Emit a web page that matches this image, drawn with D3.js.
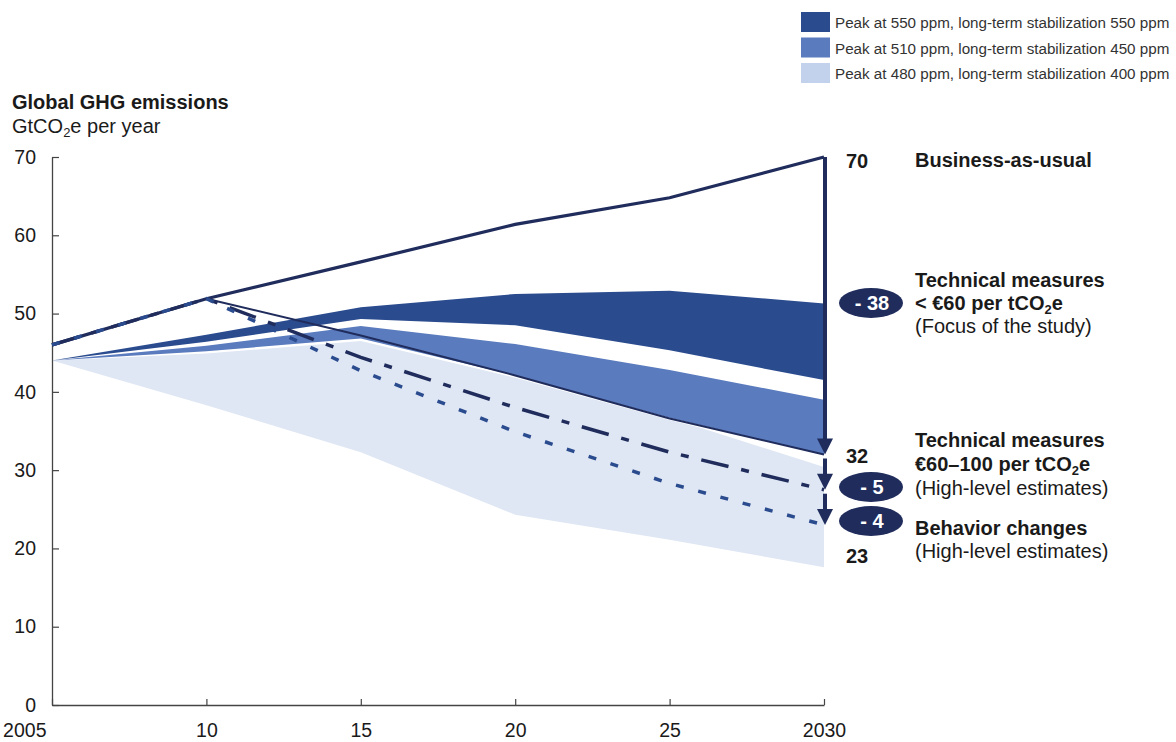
<!DOCTYPE html>
<html lang="en">
<head>
<meta charset="UTF-8">
<title>Global GHG emissions</title>
<script src="https://d3js.org/d3.v7.min.js"></script>
<style>
  body { margin: 0; background: #fff; }
  svg { display: block; font-family: "Liberation Sans", Arial, sans-serif; }
</style>
</head>
<body>
<svg id="chart" width="1176" height="742"></svg>
<script>
    // x axis years and labels
    const years = [2005, 2010, 2015, 2020, 2025, 2030];
    const yearLabels = ["2005", "10", "15", "20", "25", "2030"];
    const valueTicks = [0, 10, 20, 30, 40, 50, 60, 70];

    // emission paths, GtCO2e per year
    const bau = [46, 51.9, 56.6, 61.4, 64.8, 70];
    const techPath = [null, 51.9, 47.2, 42.1, 36.6, 32];
    const techPlusPath = [46, 51.9, 44.4, 38.0, 32.3, 27.5];
    const behaviorPath = [46, 51.9, 42.7, 34.9, 28.3, 23];

    // stabilization bands (low / high edge)
    const band550Low = [44, 46.4, 49.3, 48.5, 45.3, 41.5];
    const band550High = [44, 47.3, 50.8, 52.5, 52.9, 51.3];
    const band450Low = [44, 45.2, 46.8, 42.1, 36.7, 32.0];
    const band450High = [44, 45.9, 48.4, 46.1, 42.8, 39.0];
    const band400Years = [2005, 2010, 2015, 2020, 2025, 2026, 2030];
    const band400Low = [44, 38.3, 32.3, 24.3, 21.1, 20.4, 17.6];
    const band400High = [44, 44.9, 46.5, 41.8, 36.4, 35.4, 30.4];

    // reduction steps at 2030
    const stepFrom = [70, 32, 27.5];
    const stepTo = [32, 27.5, 23];
    const stepLabels = ["- 38", "- 5", "- 4"];
    const endLabels = ["70", "32", "23"];

    const legendLabels = [
        "Peak at 550 ppm, long-term stabilization 550 ppm",
        "Peak at 510 ppm, long-term stabilization 450 ppm",
        "Peak at 480 ppm, long-term stabilization 400 ppm"
    ];

    const navy = "#1f2c5c";
    const c550 = "#2a4b8e";
    const c450 = "#5a7bbe";
    const c400 = "#dfe7f4";
    const legendColors = [c550, c450, "#c2d2ec"];
    const textColor = "#1a1a1a";

    const svg = d3.select("#chart");
    const x = d3.scaleLinear().domain([2005, 2030]).range([52, 824]);
    const y = d3.scaleLinear().domain([0, 70]).range([705, 157]);

    // bands
    function drawBand(xs, lo, hi, color) {
        const area = d3.area()
            .x((d, i) => x(xs[i]))
            .y0((d, i) => y(lo[i]))
            .y1((d, i) => y(hi[i]));
        svg.append("path").datum(lo).attr("d", area).attr("fill", color);
    }
    drawBand(band400Years, band400Low, band400High, c400);
    drawBand(years, band450Low, band450High, c450);
    drawBand(years, band550Low, band550High, c550);

    // axes
    const yAxis = d3.axisLeft(y).tickValues(valueTicks).tickSize(-7).tickSizeOuter(0).tickPadding(16);
    const gy = svg.append("g").attr("transform", "translate(52,0)").call(yAxis);
    const xAxis = d3.axisBottom(x).tickValues(years).tickFormat((d, i) => yearLabels[i])
        .tickSize(-6).tickSizeOuter(0).tickPadding(18);
    const gx = svg.append("g").attr("transform", "translate(0,705)").call(xAxis);
    [gx, gy].forEach(g => {
        g.select(".domain").attr("stroke", "#444").attr("stroke-width", 1.3);
        g.selectAll(".tick line").attr("stroke", "#444").attr("stroke-width", 1.2);
        g.selectAll(".tick text").attr("fill", textColor).attr("font-size", 19.5)
            .attr("font-family", "'Liberation Sans', Arial, sans-serif");
    });
    gx.selectAll(".tick text").filter((d, i) => i === 0).attr("text-anchor", "end").attr("dx", -6);

    // lines
    const line = d3.line()
        .defined(d => d != null)
        .x((d, i) => x(years[i]))
        .y(d => y(d));

    svg.append("path").datum(techPath).attr("d", line)
        .attr("fill", "none").attr("stroke", navy).attr("stroke-width", 2);
    svg.append("path").datum(bau).attr("d", line)
        .attr("fill", "none").attr("stroke", navy).attr("stroke-width", 3.2);
    svg.append("path").datum(techPlusPath).attr("d", line)
        .attr("fill", "none").attr("stroke", navy).attr("stroke-width", 3.5)
        .attr("stroke-dasharray", "28 13 8 13");
    svg.append("path").datum(behaviorPath).attr("d", line)
        .attr("fill", "none").attr("stroke", c550).attr("stroke-width", 3.5)
        .attr("stroke-dasharray", "8 15");

    // arrows at 2030
    const ax = x(2030) + 1;
    stepFrom.forEach((v, i) => {
        const top = y(v) + (i === 0 ? 0 : 4);
        const tip = y(stepTo[i]);
        svg.append("line")
            .attr("x1", ax).attr("x2", ax)
            .attr("y1", top).attr("y2", tip - 12)
            .attr("stroke", navy).attr("stroke-width", 4);
        svg.append("path")
            .attr("d", `M${ax - 8},${tip - 16}L${ax + 8},${tip - 16}L${ax},${tip}Z`)
            .attr("fill", navy);
    });

    // value labels and pills
    const endY = [168, 463, 563];
    endLabels.forEach((t, i) => {
        svg.append("text").attr("x", 846).attr("y", endY[i])
            .attr("font-size", 20).attr("font-weight", "bold").attr("fill", textColor).text(t);
    });
    const pillY = [303, 487, 521];
    stepLabels.forEach((t, i) => {
        svg.append("ellipse").attr("cx", 871).attr("cy", pillY[i])
            .attr("rx", 32).attr("ry", 15).attr("fill", navy);
        svg.append("text").attr("x", 872).attr("y", pillY[i] + 7)
            .attr("text-anchor", "middle").attr("font-size", 20).attr("font-weight", "bold")
            .attr("fill", "#fff").text(t);
    });

    // annotation text; "_2" marks a subscript 2
    function richText(sel, str, size) {
        const parts = str.split("_2");
        parts.forEach((p, i) => {
            if (i > 0) {
                sel.append("tspan").attr("dy", 4).attr("font-size", size * 0.65).text("2");
                sel.append("tspan").attr("dy", -4).text(p);
            } else {
                sel.append("tspan").text(p);
            }
        });
    }
    const notes = [
        ["Business-as-usual", true, 167],
        ["Technical measures", true, 287],
        ["< €60 per tCO_2e", true, 310],
        ["(Focus of the study)", false, 333],
        ["Technical measures", true, 447],
        ["€60–100 per tCO_2e", true, 471],
        ["(High-level estimates)", false, 495],
        ["Behavior changes", true, 535],
        ["(High-level estimates)", false, 558]
    ];
    notes.forEach(n => {
        const t = svg.append("text").attr("x", 915).attr("y", n[2])
            .attr("font-size", 20).attr("font-weight", n[1] ? "bold" : "normal")
            .attr("fill", textColor);
        richText(t, n[0], 20);
    });

    // title
    svg.append("text").attr("x", 12).attr("y", 109).attr("font-size", 20)
        .attr("font-weight", "bold").attr("fill", textColor).text("Global GHG emissions");
    richText(svg.append("text").attr("x", 12).attr("y", 133).attr("font-size", 20)
        .attr("fill", textColor), "GtCO_2e per year", 20);

    // legend
    legendLabels.forEach((t, i) => {
        const ly = 12 + i * 25.5;
        svg.append("rect").attr("x", 801).attr("y", ly).attr("width", 29).attr("height", 20)
            .attr("fill", legendColors[i]);
        svg.append("text").attr("x", 835).attr("y", ly + 16).attr("font-size", 15.2)
            .attr("fill", "#333").text(t);
    });
</script>
</body>
</html>
